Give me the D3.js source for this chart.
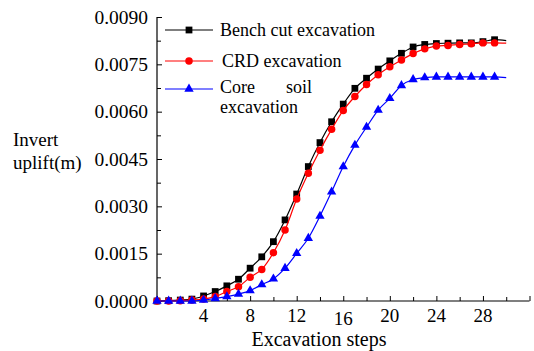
<!DOCTYPE html>
<html>
<head>
<meta charset="utf-8">
<script src="https://cdn.jsdelivr.net/npm/d3@7/dist/d3.min.js"></script>
<style>
  html, body { margin: 0; padding: 0; background: #fff; }
  svg { display: block; }
</style>
</head>
<body>
<svg id="chart" width="534" height="351" font-family="'Liberation Serif', Tinos, 'DejaVu Serif', serif"></svg>
<script>
// ---- data ----
const steps = [0,1,2,3,4,5,6,7,8,9,10,11,12,13,14,15,16,17,18,19,20,21,22,23,24,25,26,27,28,29,30];
const benchCut = [0, 0.00001, 0.00003, 0.00006, 0.00016, 0.00030, 0.00048, 0.00069, 0.00104, 0.00140, 0.00188, 0.00257, 0.00339, 0.00426, 0.00502, 0.00568, 0.00624, 0.00674, 0.00706, 0.00735, 0.00761, 0.00785, 0.00805, 0.00813, 0.00816, 0.00817, 0.00818, 0.00818, 0.00822, 0.00828, 0.00825];
const crd = [0, 0, 0.00001, 0.00003, 0.00006, 0.00014, 0.00030, 0.00045, 0.00075, 0.00100, 0.00153, 0.00225, 0.00323, 0.00405, 0.00478, 0.00544, 0.00604, 0.00648, 0.00686, 0.00717, 0.00742, 0.00764, 0.00784, 0.00799, 0.00808, 0.00810, 0.00813, 0.00815, 0.00818, 0.00818, 0.00817];
const coreSoil = [0, 0, 0, 0, 0.00003, 0.00008, 0.00014, 0.00022, 0.00033, 0.00052, 0.00070, 0.00104, 0.00151, 0.00199, 0.00269, 0.00346, 0.00426, 0.00494, 0.00551, 0.00605, 0.00642, 0.00683, 0.00702, 0.00708, 0.00710, 0.00710, 0.00710, 0.00710, 0.00710, 0.00710, 0.00708];
const seriesNames = ["Bench cut excavation", "CRD excavation", "Core soil excavation"];
const xTickLabels = [4, 8, 12, 16, 20, 24, 28];
const yTickLabels = ["0.0000", "0.0015", "0.0030", "0.0045", "0.0060", "0.0075", "0.0090"];

// ---- layout ----
const svg = d3.select("#chart");
const x = d3.scaleLinear().domain([0, 32]).range([157, 529.5]);
const y = d3.scaleLinear().domain([0, 0.009]).range([301, 17]);

// y axis (ticks inside)
const yAxis = d3.axisLeft(y)
  .tickValues(d3.range(0, 0.00901, 0.00075))
  .tickSize(-5)
  .tickFormat("");
const gy = svg.append("g").attr("transform", `translate(${x(0)},0)`).call(yAxis);
gy.select(".domain").attr("d", `M0,${y(0.009)}V${y(0)}`).attr("stroke", "#000").attr("stroke-width", 1.2);
gy.selectAll(".tick line").attr("stroke", "#000").attr("x2", 5);
gy.selectAll(".tick")
  .filter(d => Math.round(d / 0.00075) % 2 === 1)
  .select("line").attr("x2", 4);

svg.append("g").selectAll("text").data(yTickLabels).join("text")
  .attr("x", 148).attr("y", d => y(+d)).attr("dy", "0.35em")
  .attr("text-anchor", "end").attr("font-size", 19.5).text(d => d);

// x axis (ticks inside)
const xAxis = d3.axisBottom(x).tickValues(d3.range(0, 32.01, 2)).tickSize(-4).tickFormat("");
const gx = svg.append("g").attr("transform", `translate(0,${y(0)})`).call(xAxis);
gx.select(".domain").attr("d", `M${x(0)},0H${x(32)}`).attr("stroke", "#000").attr("stroke-width", 1.2);
gx.selectAll(".tick line").attr("stroke", "#000");
gx.selectAll(".tick").filter(d => d % 4 === 0).select("line").attr("y2", -5);

svg.append("g").selectAll("text").data(xTickLabels).join("text")
  .attr("x", d => x(d)).attr("y", d => d === 16 ? 325 : 322)
  .attr("text-anchor", "middle").attr("font-size", 19).text(d => d);

// axis titles
svg.append("text").attr("x", 319).attr("y", 346).attr("text-anchor", "middle")
  .attr("font-size", 20).text("Excavation steps");
svg.append("text").attr("x", 13).attr("y", 146).attr("font-size", 19).text("Invert");
svg.append("text").attr("x", 13).attr("y", 169).attr("font-size", 19).text("uplift(m)");

// ---- series ----
const series = [
  { name: seriesNames[0], values: benchCut, color: "#000000", symbol: d3.symbolSquare, size: 46 },
  { name: seriesNames[1], values: crd, color: "#ff0000", symbol: d3.symbolCircle, size: 44 },
  { name: seriesNames[2], values: coreSoil, color: "#0000ff", symbol: d3.symbolTriangle, size: 38 }
];

const line = d3.line().x(d => x(d[0])).y(d => y(d[1])).curve(d3.curveMonotoneX);

series.forEach(s => {
  const pts = steps.map((st, i) => [st, s.values[i]]);
  svg.append("path").datum(pts).attr("d", line)
    .attr("fill", "none").attr("stroke", s.color).attr("stroke-width", 1.2);
  svg.append("g").selectAll("path").data(pts.filter(p => p[0] <= 29)).join("path")
    .attr("d", d3.symbol().type(s.symbol).size(s.size))
    .attr("transform", p => `translate(${x(p[0])},${y(p[1])})`)
    .attr("fill", s.color);
});

// ---- legend ----
const legendRows = [30, 61, 89];
series.forEach((s, i) => {
  const ly = legendRows[i];
  svg.append("line").attr("x1", 165).attr("x2", 213).attr("y1", ly).attr("y2", ly)
    .attr("stroke", s.color).attr("stroke-width", 1.2);
  svg.append("path").attr("d", d3.symbol().type(s.symbol).size(s.size))
    .attr("transform", `translate(189,${ly})`).attr("fill", s.color);
});
const lf = 18;
svg.append("text").attr("x", 220).attr("y", 36).attr("font-size", lf).text(seriesNames[0]);
svg.append("text").attr("x", 222).attr("y", 67).attr("font-size", lf).text(seriesNames[1]);
const coreWords = seriesNames[2].split(" ");
svg.append("text").attr("x", 220).attr("y", 93).attr("font-size", lf).text(coreWords[0]);
svg.append("text").attr("x", 312).attr("y", 93).attr("text-anchor", "end").attr("font-size", lf).text(coreWords[1]);
svg.append("text").attr("x", 220).attr("y", 113).attr("font-size", lf).text(coreWords[2]);
</script>
</body>
</html>
